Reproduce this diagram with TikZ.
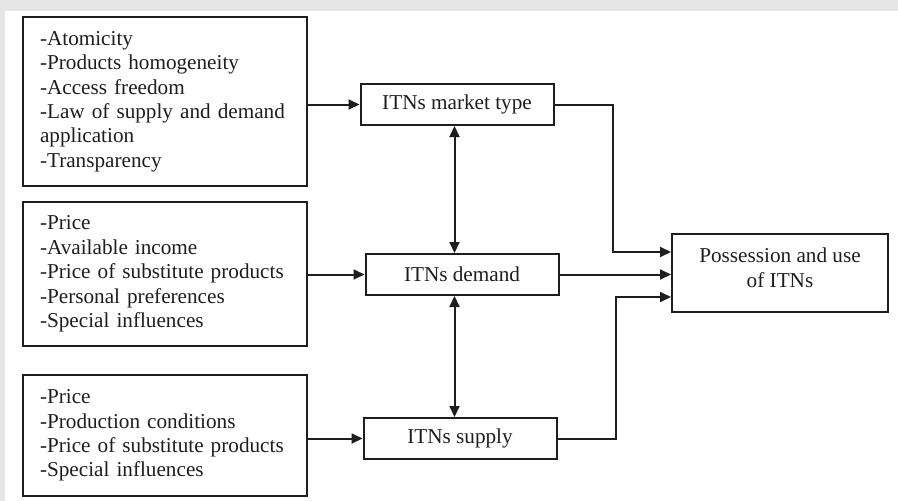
\documentclass[tikz,border=0pt]{standalone}
\usepackage{fontspec}
\setmainfont{Liberation Serif}
\usetikzlibrary{arrows.meta}
\definecolor{ink}{HTML}{1E1E1E}
\definecolor{frame}{HTML}{E6E6E6}
\begin{document}
\begin{tikzpicture}[x=1pt,y=-1pt,
  box/.style={draw=ink, line width=2pt, fill=white, text=ink},
  listbox/.style={box, text width=250pt, inner xsep=17pt, inner ysep=0pt,
    align=left, font=\fontsize{21.2}{24.4}\selectfont},
  smallbox/.style={box, minimum width=193pt, minimum height=41pt, inner sep=0pt,
    font=\fontsize{21.2}{24.4}\selectfont},
  tip/.style={Triangle[length=11pt,width=10pt]},
  arr/.style={draw=ink, line width=2pt, -{Triangle[length=11pt,width=10pt]}},
  biarr/.style={draw=ink, line width=2pt,
    {Triangle[length=11pt,width=10pt]}-{Triangle[length=11pt,width=10pt]}}
]
% page and frame
\useasboundingbox (0,0) rectangle (898,501);
\fill[frame] (0,0) rectangle (898,501);
\fill[white] (5,11) rectangle (898,501);

% factor lists
\node[listbox, minimum height=169pt] (A) at (165,101.5)
  {-Atomicity\\-Products homogeneity\\-Access freedom\\-Law of supply and demand\\application\\-Transparency};
\node[listbox, minimum height=144pt] (B) at (165,274)
  {-Price\\-Available income\\-Price of substitute products\\-Personal preferences\\-Special influences};
\node[listbox, minimum height=121pt] (C) at (165,435.5)
  {-Price\\-Production conditions\\-Price of substitute products\\-Special influences};

% market nodes
\node[smallbox] (market) at (457,104.5) {ITNs market type};
\node[smallbox] (demand) at (462,274.5) {ITNs demand};
\node[smallbox] (supply) at (460,438.5) {ITNs supply};

% outcome
\node[box, minimum width=216pt, minimum height=78pt, inner sep=0pt] (poss) at (780,273) {};
\node[text=ink, align=center, font=\fontsize{21.2}{25}\selectfont] (posst)
  at ([yshift=5pt]poss.center) {Possession and use\\of ITNs};

% helper columns for the connectors
\coordinate (xv) at (454.5,0);
\coordinate (jm) at (613,0);
\coordinate (js) at (616,0);

% inputs
\draw[arr] (A.east |- market) -- (market.west);
\draw[arr] (B.east |- demand) -- (demand.west);
\draw[arr] (C.east |- supply) -- (supply.west);

% interactions
\draw[biarr] (market.south -| xv) -- (demand.north -| xv);
\draw[biarr] (demand.south -| xv) -- (supply.north -| xv);

% outputs
\draw[arr] (market.east) -- (market.east -| jm) |- ([yshift=21pt]poss.west);
\draw[arr] (demand.east) -- (demand.east -| poss.west);
\draw[arr] (supply.east) -- (supply.east -| js) |- ([yshift=-24pt]poss.west);
\end{tikzpicture}
\end{document}
